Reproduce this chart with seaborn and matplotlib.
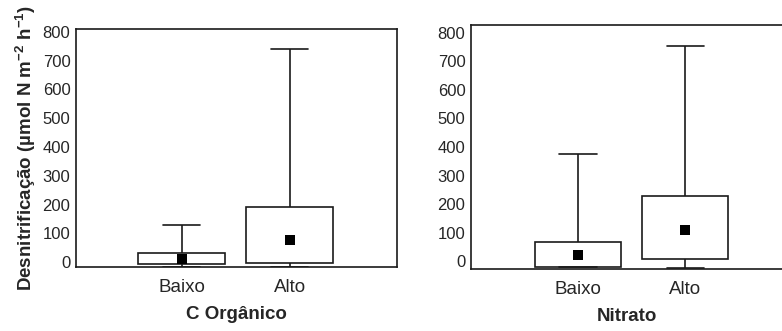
import numpy as np
import pandas as pd
import matplotlib
matplotlib.use("Agg")
import matplotlib.pyplot as plt
import seaborn as sns

# ---- data ----
groups = ["Baixo", "Alto"]

corg_low = [-17, -17]
corg_q1 = [-7, -3]
corg_q3 = [31, 191]
corg_high = [129, 741]
corg_mean = [10, 77]

nit_low = [-22, -25]
nit_q1 = [-22, 8]
nit_q3 = [66, 229]
nit_high = [375, 755]
nit_mean = [22, 109]

yticks = [0, 100, 200, 300, 400, 500, 600, 700, 800]
ylabel = "Desnitrificação (µmol N m$^{\\mathbf{-2}}$ h$^{\\mathbf{-1}}$)"
xlabels = ["C Orgânico", "Nitrato"]

sns.set_style("white")
plt.rcParams["font.family"] = ["Liberation Sans", "DejaVu Sans"]
plt.rcParams["mathtext.fontset"] = "custom"
plt.rcParams["mathtext.rm"] = "Liberation Sans"
plt.rcParams["mathtext.bf"] = "Liberation Sans:bold"
plt.rcParams["mathtext.it"] = "Liberation Sans:italic"


def five_point(low, q1, q3, high, mean):
    rows = []
    for g, lo, a, b, hi, m in zip(groups, low, q1, q3, high, mean):
        med = min(max(m, a), b)
        for v in (lo, a, med, b, hi):
            rows.append({"grupo": g, "valor": v})
    return pd.DataFrame(rows)


fig = plt.figure(figsize=(7.82, 3.31), dpi=100)
ax1 = fig.add_axes([76 / 782, (331 - 267) / 331, 321 / 782, 238 / 331])
ax2 = fig.add_axes([471 / 782, (331 - 269) / 331, 311 / 782, 244 / 331])

line_c = "#1a1a1a"
panels = [
    (ax1, (corg_low, corg_q1, corg_q3, corg_high, corg_mean), xlabels[0], (-0.977, 1.995), (-17, 810)),
    (ax2, (nit_low, nit_q1, nit_q3, nit_high, nit_mean), xlabels[1], (-0.995, 1.898), (-28, 828)),
]

for ax, (lo, a, b, hi, m), xl, xlim, ylim in panels:
    df = five_point(lo, a, b, hi, m)
    sns.boxplot(
        data=df, x="grupo", y="valor", order=groups, ax=ax,
        whis=(0, 100), width=0.8, color="white", linecolor=line_c,
        linewidth=1.2, showfliers=False, capwidths=0.35,
        medianprops={"visible": False},
    )
    dm = pd.DataFrame({"grupo": groups, "media": m})
    sns.stripplot(
        data=dm, x="grupo", y="media", order=groups, ax=ax,
        jitter=False, marker="s", size=7.5, color="black", linewidth=0,
    )
    ax.set_xlim(*xlim)
    ax.set_ylim(*ylim)
    ax.set_yticks(yticks)
    ax.set_yticklabels([str(t) for t in yticks], fontsize=12)
    ax.tick_params(axis="y", length=0, pad=4)
    ax.tick_params(axis="x", length=0, pad=9, labelsize=13.5)
    ax.set_xlabel(xl, fontsize=13.5, fontweight="bold", labelpad=7)
    ax.set_ylabel("")
    for s in ax.spines.values():
        s.set_color(line_c)
        s.set_linewidth(1.2)

ax2.spines["right"].set_visible(False)
ax1.set_ylabel(ylabel, fontsize=13.5, fontweight="bold", labelpad=3)

fig.savefig("out.png", dpi=100)
